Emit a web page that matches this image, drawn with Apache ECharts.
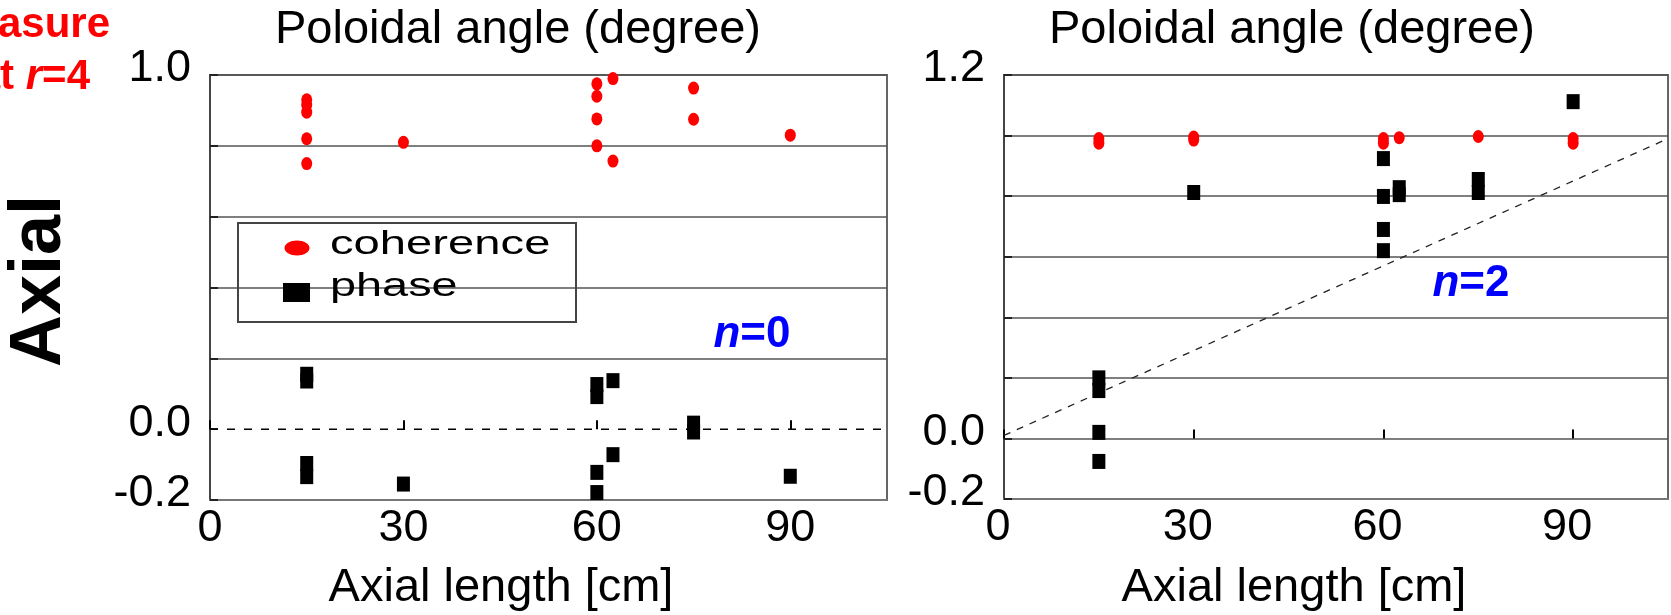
<!DOCTYPE html>
<html>
<head>
<meta charset="utf-8">
<title>Coherence and phase vs axial length</title>
<script src="https://cdn.jsdelivr.net/npm/echarts@6/dist/echarts.min.js"></script>
<style>html, body {margin: 0; padding: 0; background: #fff;} #main {width: 1671px; height: 615px;}</style>
</head>
<body>
<div id="main"></div>
<script type="text/javascript">
var FONT = "'Liberation Sans', Arial, sans-serif";

// axis ticks and labels
var xTicks = [0, 30, 60, 90];
var leftYLabels = ['1.0', '0.0', '-0.2'];
var rightYLabels = ['1.2', '0.0', '-0.2'];

// left panel (n=0): [axial length cm, value]
var leftCoherence = [
  [15, 0.93], [15, 0.915], [15, 0.895], [15, 0.82], [15, 0.75],
  [30, 0.81],
  [60, 0.975], [60, 0.94], [60, 0.876], [60, 0.80],
  [62.5, 0.99], [62.5, 0.757],
  [75, 0.963], [75, 0.875],
  [90, 0.83]
];
var leftPhase = [
  [15, 0.155], [15, 0.136], [15, -0.097], [15, -0.134],
  [30, -0.155],
  [60, 0.126], [60, 0.092], [60, -0.122], [60, -0.179],
  [62.5, 0.137], [62.5, -0.072],
  [75, 0.017], [75, -0.008],
  [90, -0.133]
];
var leftModeLine = [[0, 0], [105, 0]];

// right panel (n=2)
var rightCoherence = [
  [15, 0.99], [15, 0.975],
  [30, 0.995], [30, 0.985],
  [60, 0.99], [60, 0.975],
  [62.5, 0.993],
  [75, 0.997],
  [90, 0.99], [90, 0.975]
];
var rightPhase = [
  [15, 0.20], [15, 0.158], [15, 0.02], [15, -0.076],
  [30, 0.812],
  [60, 0.924], [60, 0.799], [60, 0.69], [60, 0.62],
  [62.5, 0.828], [62.5, 0.805],
  [75, 0.855], [75, 0.812],
  [90, 1.112]
];
var rightModeLine = [[0, 0.01], [105, 0.99]];

function yFormatter(list) {
  return function (v) {
    if (Math.abs(v) < 1e-9) v = 0;
    var s = v.toFixed(1);
    return list.indexOf(s) >= 0 ? s : '';
  };
}
function xFormatter(v) {
  return xTicks.indexOf(Math.round(v)) >= 0 ? String(Math.round(v)) : '';
}

function bottomXAxis(grid, pad) {
  return {
    type: 'value', gridIndex: grid, min: 0, max: 105, interval: 30, position: 'bottom',
    axisLine: {show: true, onZero: false, lineStyle: {color: '#777', width: 2}},
    axisTick: {show: false},
    splitLine: {show: false},
    axisLabel: {color: '#000', fontSize: 45, fontFamily: FONT, margin: 6, padding: [0, pad, 0, 0], formatter: xFormatter}
  };
}
function zeroXAxis(grid) {
  return {
    type: 'value', gridIndex: grid, min: 0, max: 105, interval: 30, position: 'bottom',
    axisLine: {show: false, onZero: true},
    axisTick: {show: true, inside: true, length: 9, customValues: xTicks, lineStyle: {color: '#000', width: 2}},
    axisLabel: {show: false},
    splitLine: {show: false}
  };
}
function yAxis(grid, max, labels, lineColors) {
  return {
    type: 'value', gridIndex: grid, min: -0.2, max: max, interval: 0.2,
    axisLine: {show: true, onZero: false, lineStyle: {color: '#444', width: 2}},
    axisTick: {show: true, inside: true, length: 8, lineStyle: {color: '#222', width: 2}},
    axisLabel: {color: '#000', fontSize: 45, fontFamily: FONT, margin: 19, verticalAlign: 'bottom', lineHeight: 12, formatter: yFormatter(labels)},
    splitLine: {show: true, lineStyle: {color: lineColors, width: 1.5}}
  };
}

var chart = echarts.init(document.getElementById('main'), null, {renderer: 'canvas'});

var option = {
  animation: false,
  backgroundColor: '#fff',
  grid: [
    {left: 210, top: 75, width: 677, height: 425, show: true, borderColor: '#666', borderWidth: 2, backgroundColor: 'transparent'},
    {left: 1004, top: 75, width: 674, height: 424, show: true, borderColor: '#666', borderWidth: 2, backgroundColor: 'transparent'}
  ],
  xAxis: [bottomXAxis(0, 0), zeroXAxis(0), bottomXAxis(1, 12), zeroXAxis(1)],
  yAxis: [
    yAxis(0, 1.0, leftYLabels, ['#555', 'rgba(0,0,0,0)', '#555', '#555', '#555', '#555', '#555']),
    yAxis(1, 1.2, rightYLabels, ['#555'])
  ],
  series: [
    {type: 'line', xAxisIndex: 0, yAxisIndex: 0, data: leftModeLine, symbol: 'none', silent: true, z: 1,
      lineStyle: {color: '#000', width: 1.5, type: [8, 9]}},
    {name: 'coherence', type: 'scatter', xAxisIndex: 0, yAxisIndex: 0, data: leftCoherence,
      symbol: 'circle', symbolSize: [11, 13], itemStyle: {color: '#ff0000', opacity: 1}},
    {name: 'phase', type: 'scatter', xAxisIndex: 0, yAxisIndex: 0, data: leftPhase,
      symbol: 'rect', symbolSize: [13, 15], itemStyle: {color: '#000', opacity: 1}},
    {type: 'line', xAxisIndex: 2, yAxisIndex: 1, data: rightModeLine, symbol: 'none', silent: true, z: 1,
      lineStyle: {color: '#222', width: 1.3, type: [7, 7]}},
    {name: 'coherence', type: 'scatter', xAxisIndex: 2, yAxisIndex: 1, data: rightCoherence,
      symbol: 'circle', symbolSize: [11, 13], itemStyle: {color: '#ff0000', opacity: 1}},
    {name: 'phase', type: 'scatter', xAxisIndex: 2, yAxisIndex: 1, data: rightPhase,
      symbol: 'rect', symbolSize: [13, 15], itemStyle: {color: '#000', opacity: 1}}
  ],
  graphic: [
    // panel titles and axis names
    {type: 'text', x: 518, y: 30, style: {text: 'Poloidal angle (degree)', fill: '#000', fontSize: 47, fontFamily: FONT, align: 'center', verticalAlign: 'middle', textAlign: 'center', textVerticalAlign: 'middle'}},
    {type: 'text', x: 1292, y: 30, style: {text: 'Poloidal angle (degree)', fill: '#000', fontSize: 47, fontFamily: FONT, align: 'center', verticalAlign: 'middle', textAlign: 'center', textVerticalAlign: 'middle'}},
    {type: 'text', x: 501, y: 588, style: {text: 'Axial length [cm]', fill: '#000', fontSize: 47, fontFamily: FONT, align: 'center', verticalAlign: 'middle', textAlign: 'center', textVerticalAlign: 'middle'}},
    {type: 'text', x: 1294, y: 588, style: {text: 'Axial length [cm]', fill: '#000', fontSize: 47, fontFamily: FONT, align: 'center', verticalAlign: 'middle', textAlign: 'center', textVerticalAlign: 'middle'}},
    // big vertical label
    {type: 'text', x: 40, y: 281, rotation: Math.PI / 2, style: {text: 'Axial', fill: '#000', fontSize: 72, fontWeight: 'bold', fontFamily: FONT, align: 'center', verticalAlign: 'middle', textAlign: 'center', textVerticalAlign: 'middle'}},
    // red note, cut at the left edge
    {type: 'text', x: 110, y: 25, style: {text: 'measure', fill: '#ff0000', fontSize: 42, fontWeight: 'bold', fontFamily: FONT, align: 'right', verticalAlign: 'middle', textAlign: 'right', textVerticalAlign: 'middle'}},
    {type: 'text', x: 90, y: 77, style: {text: '{b|at }{i|r}{b|=4}', fill: '#ff0000', fontSize: 42, fontWeight: 'bold', fontFamily: FONT, align: 'right', verticalAlign: 'middle', textAlign: 'right', textVerticalAlign: 'middle',
      rich: {b: {fill: '#ff0000', fontSize: 42, fontWeight: 'bold', fontFamily: FONT}, i: {fill: '#ff0000', fontSize: 42, fontWeight: 'bold', fontStyle: 'italic', fontFamily: FONT}}}},
    // mode numbers
    {type: 'text', x: 752, y: 335, style: {text: '{i|n}{b|=0}', fill: '#0000ff', fontSize: 44, fontWeight: 'bold', fontFamily: FONT, align: 'center', verticalAlign: 'middle', textAlign: 'center', textVerticalAlign: 'middle',
      rich: {b: {fill: '#0000ff', fontSize: 44, fontWeight: 'bold', fontFamily: FONT}, i: {fill: '#0000ff', fontSize: 44, fontWeight: 'bold', fontStyle: 'italic', fontFamily: FONT}}}},
    {type: 'text', x: 1471, y: 284, style: {text: '{i|n}{b|=2}', fill: '#0000ff', fontSize: 44, fontWeight: 'bold', fontFamily: FONT, align: 'center', verticalAlign: 'middle', textAlign: 'center', textVerticalAlign: 'middle',
      rich: {b: {fill: '#0000ff', fontSize: 44, fontWeight: 'bold', fontFamily: FONT}, i: {fill: '#0000ff', fontSize: 44, fontWeight: 'bold', fontStyle: 'italic', fontFamily: FONT}}}},
    // legend box
    {type: 'rect', shape: {x: 238, y: 223, width: 338, height: 99}, style: {fill: 'none', stroke: '#444', lineWidth: 2}, z: 10},
    {type: 'ellipse', shape: {cx: 297, cy: 248, rx: 12.5, ry: 7.5}, style: {fill: '#ff0000'}, z: 10},
    {type: 'rect', shape: {x: 283, y: 283, width: 27, height: 19}, style: {fill: '#000'}, z: 10},
    {type: 'text', x: 330, y: 245, scaleX: 1.43, z: 10, style: {text: 'coherence', fill: '#000', fontSize: 33, fontFamily: FONT, align: 'left', verticalAlign: 'middle', textAlign: 'left', textVerticalAlign: 'middle'}},
    {type: 'text', x: 330, y: 287, scaleX: 1.42, z: 10, style: {text: 'phase', fill: '#000', fontSize: 33, fontFamily: FONT, align: 'left', verticalAlign: 'middle', textAlign: 'left', textVerticalAlign: 'middle'}}
  ]
};
chart.setOption(option);
</script>
</body>
</html>
